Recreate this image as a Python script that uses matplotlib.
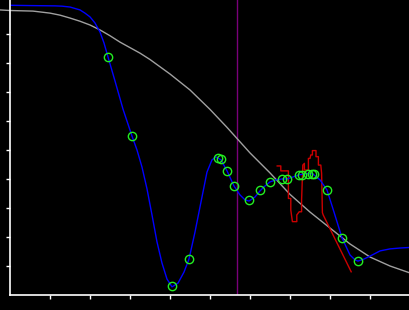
#!/usr/bin/env python

import matplotlib
matplotlib.use('Agg')
import matplotlib.pyplot as plt

# gray reference curve
ref_x = [-0.25, 0.0, 0.575, 1.0, 1.25, 1.5, 1.75, 2.0, 2.25, 2.5, 2.75, 3.0,
         3.25, 3.5, 4.0, 4.5, 5.0, 5.425, 6.0, 6.5, 7.0, 7.5, 8.0, 8.5,
         9.0, 9.5, 10.0]
ref_y = [9.83, 9.81, 9.79, 9.72, 9.65, 9.55, 9.44, 9.31, 9.14, 8.94, 8.72,
         8.53, 8.34, 8.12, 7.62, 7.07, 6.40, 5.78, 4.90, 4.21, 3.47, 2.86,
         2.31, 1.76, 1.31, 1.00, 0.76]

# blue fitted curve
fit_x = [0.0, 0.5, 1.125, 1.3, 1.5, 1.75, 1.875, 2.0, 2.125, 2.25, 2.35,
         2.45, 2.625, 2.825, 3.05, 3.175, 3.3, 3.425, 3.55, 3.675, 3.8,
         3.925, 4.05, 4.2, 4.35, 4.475, 4.625, 4.775, 4.925, 5.05, 5.15,
         5.275, 5.425, 5.6, 5.75, 5.875, 5.975, 6.125, 6.25, 6.375, 6.5,
         6.65, 6.8, 6.925, 7.075, 7.225, 7.325, 7.45, 7.575, 7.75, 7.925,
         8.1, 8.3, 8.5, 8.625, 8.7, 8.85, 9.0, 9.25, 9.5, 9.75, 10.0]
fit_y = [9.99, 9.98, 9.97, 9.96, 9.93, 9.83, 9.72, 9.59, 9.38, 9.07, 8.69,
         8.21, 7.38, 6.41, 5.48, 5.00, 4.41, 3.66, 2.76, 1.83, 1.10, 0.55,
         0.28, 0.41, 0.79, 1.24, 2.17, 3.21, 4.24, 4.66, 4.76, 4.66,
         4.28, 3.76, 3.45, 3.28, 3.24, 3.38, 3.59, 3.76, 3.90, 3.97, 4.00,
         4.00, 4.07, 4.14, 4.17, 4.19, 4.17, 3.97, 3.62, 2.86, 1.97, 1.38,
         1.21, 1.17, 1.24, 1.34, 1.52, 1.59, 1.62, 1.64]

# green sample points
pts_x = [2.45, 3.05, 4.05, 4.475, 5.2, 5.275, 5.425, 5.6, 5.975, 6.25, 6.5,
         6.8, 6.925, 7.225, 7.3, 7.45, 7.55, 7.6, 7.925, 8.3, 8.7]
pts_y = [8.21, 5.48, 0.31, 1.24, 4.72, 4.69, 4.28, 3.76, 3.28, 3.62, 3.90,
         4.00, 4.00, 4.14, 4.14, 4.17, 4.17, 4.17, 3.62, 1.97, 1.17]

# red measured trace
meas_x = [6.68, 6.77, 6.77, 6.96, 6.96, 7.02, 7.02, 7.06, 7.17, 7.17, 7.23,
          7.29, 7.29, 7.32, 7.36, 7.36, 7.46, 7.46, 7.5, 7.52, 7.56, 7.56,
          7.65, 7.65, 7.71, 7.71, 7.77, 7.79, 7.81, 7.83, 8.53]
meas_y = [4.45, 4.45, 4.28, 4.28, 3.33, 3.33, 2.93, 2.53, 2.53, 2.76, 2.87,
          2.87, 3.28, 4.48, 4.54, 4.31, 4.31, 4.71, 4.71, 4.83, 4.83, 4.98,
          4.98, 4.77, 4.77, 4.48, 4.48, 4.20, 2.84, 2.76, 0.80]

marker_x = 5.675

x_ticks = [1, 2, 3, 4, 5, 6, 7, 8, 9]
y_ticks = [1, 2, 3, 4, 5, 6, 7, 8, 9]


def main():
    fig = plt.figure(figsize=(4.1, 3.1), dpi=100, facecolor='black')
    ax = fig.add_axes([10 / 410, 15 / 310, 400 / 410, 295 / 310])
    ax.set_facecolor('black')

    ax.axvline(marker_x, color='#7a007a', lw=1.0)
    ax.plot(ref_x, ref_y, color='#a0a0a0', lw=1.0, clip_on=False)
    ax.plot(meas_x, meas_y, color='#cc0000', lw=1.0)
    ax.plot(fit_x, fit_y, color='#0000ff', lw=1.0)
    ax.plot(pts_x, pts_y, ls='none', marker='o', ms=6, mfc='none',
            mec='#22ee22', mew=1.0)

    ax.set_xlim(0, 10)
    ax.set_ylim(0, 295 / 29)
    ax.set_xticks(x_ticks)
    ax.set_yticks(y_ticks)
    ax.set_xticklabels([])
    ax.set_yticklabels([])
    ax.tick_params(colors='white', direction='out', length=3, width=1.0)
    for side in ('top', 'right'):
        ax.spines[side].set_visible(False)
    for side in ('left', 'bottom'):
        ax.spines[side].set_color('white')
        ax.spines[side].set_linewidth(1.2)

    fig.savefig('out.png', dpi=100, facecolor='black')
    plt.close(fig)


if __name__ == "__main__":
    main()
